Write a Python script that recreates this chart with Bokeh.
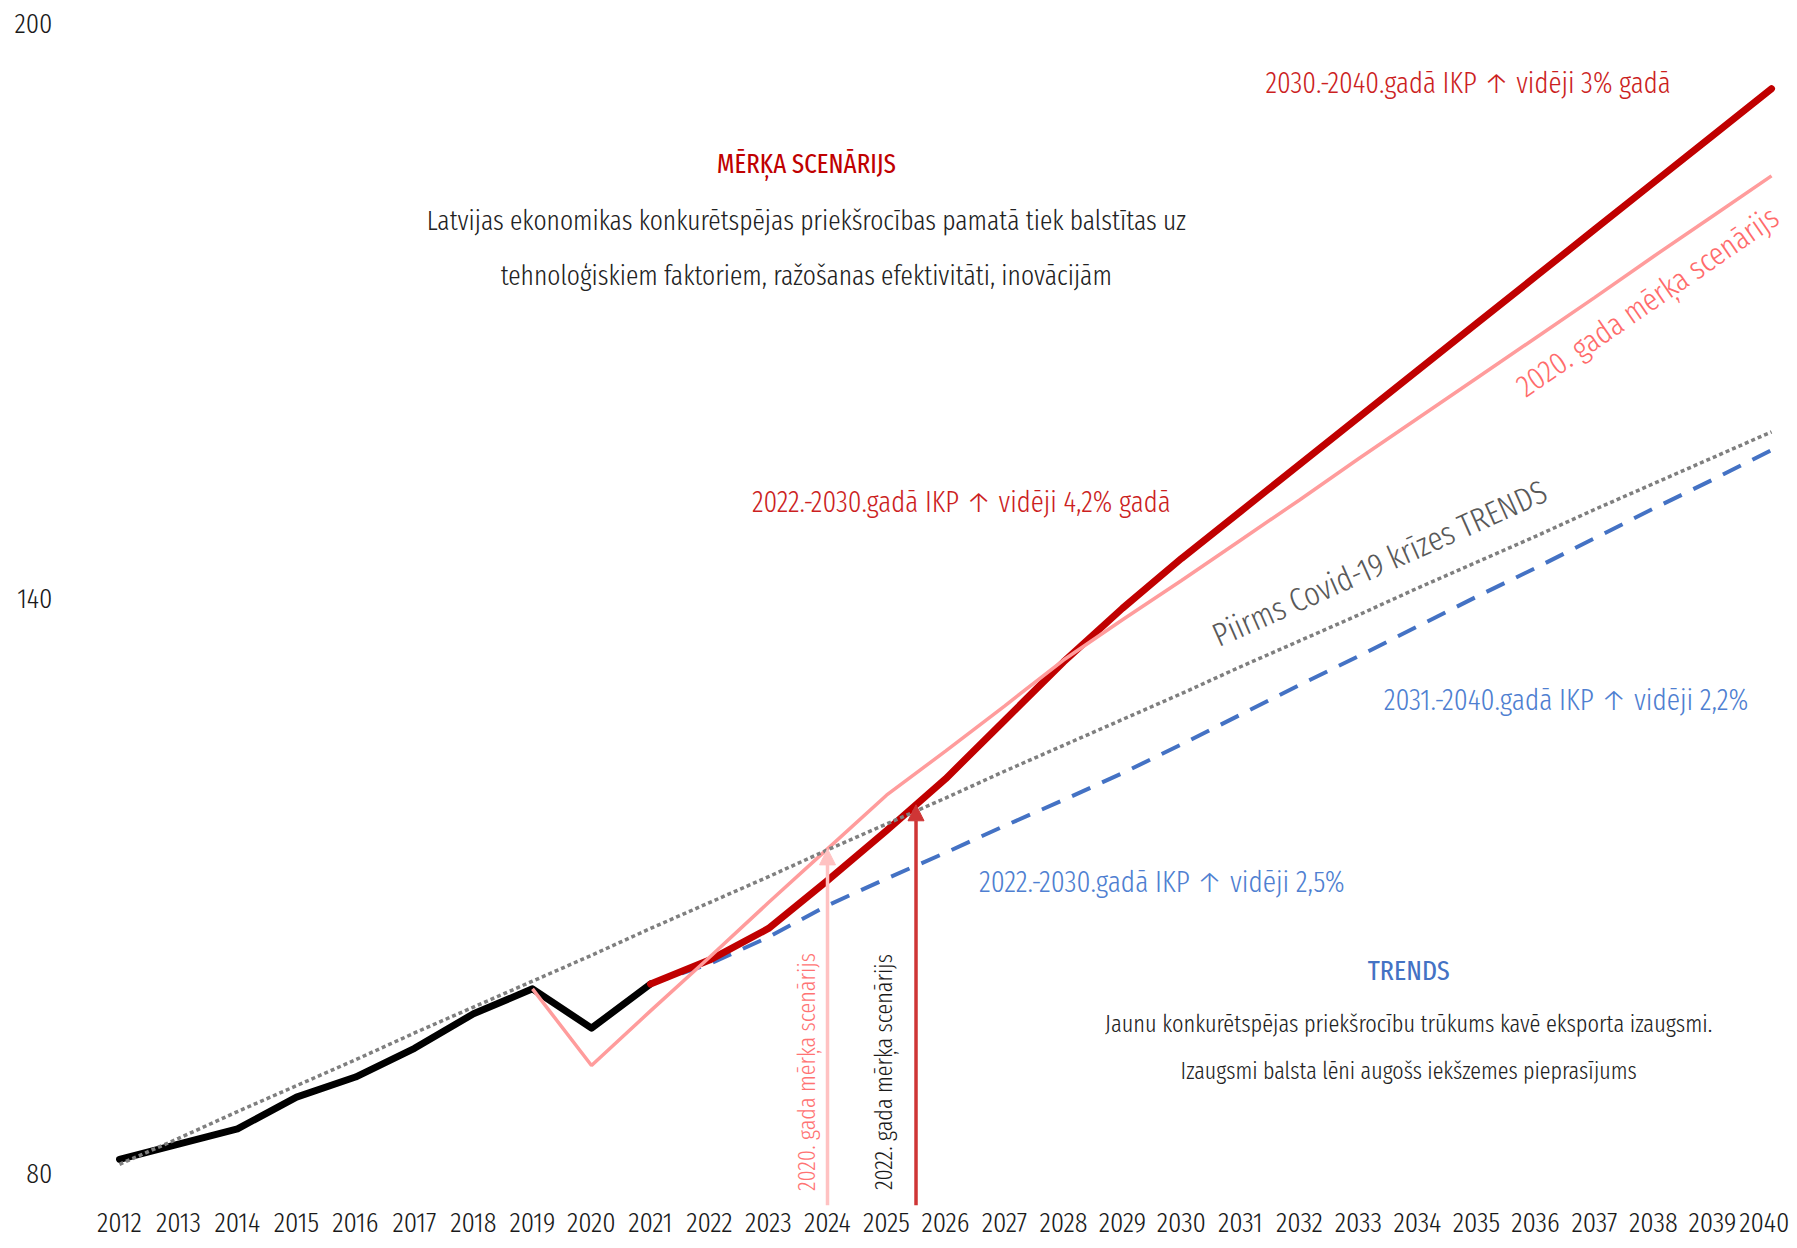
from bokeh.plotting import figure
from bokeh.models import Range1d, FixedTicker, Arrow, NormalHead, Label
from bokeh.embed import file_html
from bokeh.resources import INLINE

LIGHT = "Fira Sans Extra Condensed Light"
REG = "Fira Sans Extra Condensed"

# ---- data (index values) ----
years_hist = list(range(2012, 2022))
actual = [81.5, 83.1, 84.7, 88.0, 90.1, 93.1, 96.7, 99.3, 95.2, 99.8]

years_all = list(range(2012, 2041))
pre_covid_trend = [81.0, 83.7, 86.5, 89.2, 91.9, 94.7, 97.4, 100.1, 102.8, 105.6,
                   108.3, 111.0, 113.8, 116.5, 119.2, 122.0, 124.7, 127.4, 130.1,
                   132.9, 135.6, 138.3, 141.1, 143.8, 146.5, 149.3, 152.0, 154.7, 157.4]

years_fc = list(range(2021, 2041))
target_2022 = [99.8, 102.3, 105.6, 110.6, 115.8, 121.2, 127.3, 133.4, 139.0, 144.2,
               149.1, 154.0, 158.9, 163.8, 168.7, 173.6, 178.5, 183.4, 188.3, 193.2]
trend_fc = [99.8, 101.9, 104.7, 108.0, 110.8, 113.5, 116.3, 119.0, 121.8, 124.8,
            127.9, 131.0, 134.0, 137.1, 140.2, 143.2, 146.3, 149.4, 152.4, 155.5]

years_2020 = list(range(2019, 2041))
target_2020 = [99.3, 91.3, 97.0, 102.6, 108.3, 113.9, 119.5, 124.1, 128.8, 133.6, 137.8,
               141.9, 146.1, 150.3, 154.6, 158.8, 163.0, 167.2, 171.4, 175.7, 179.9, 184.1]

y_ticks = [80, 140, 200]
arrow_2020_year = 2024
arrow_2022_year = 2025.5

Y_MIN, Y_MAX = 76.7, 200

p = figure(width=1789, height=1240,
           x_range=Range1d(2011.254, 2040.237), y_range=Range1d(Y_MIN, Y_MAX),
           output_backend="svg", toolbar_location=None,
           min_border_left=75, min_border_right=4, min_border_top=23, min_border_bottom=35)
p.outline_line_color = None
p.xgrid.visible = False
p.ygrid.visible = False

for ax in (p.xaxis[0], p.yaxis[0]):
    ax.axis_line_color = None
    ax.major_tick_line_color = None
    ax.minor_tick_line_color = None
    ax.major_label_text_font = LIGHT
    ax.major_label_text_font_size = "28.5px"
    ax.major_label_text_color = "#1a1a1a"
p.xaxis.ticker = FixedTicker(ticks=years_all)
p.yaxis.ticker = FixedTicker(ticks=y_ticks)
p.xaxis.major_label_standoff = 1
p.yaxis.major_label_standoff = 17

# ---- lines ----
p.line(years_hist, actual, line_color="black", line_width=7, line_cap="round", line_join="round")
p.line(years_fc, trend_fc, line_color="#4472c4", line_width=4, line_dash="20 13")
p.line(years_fc, target_2022, line_color="#c00000", line_width=7, line_cap="round", line_join="round")
p.line(years_2020, target_2020, line_color="#ff9c9c", line_width=3.5)
p.line(years_all, pre_covid_trend, line_color="#7f7f7f", line_width=3.5, line_dash="4 3")

# ---- arrows ----
y_pink_tip = target_2020[years_2020.index(arrow_2020_year)]
i0 = years_fc.index(int(arrow_2022_year))
y_red_tip = (target_2022[i0] + target_2022[i0 + 1]) / 2
p.add_layout(Arrow(x_start=arrow_2020_year, y_start=Y_MIN, x_end=arrow_2020_year, y_end=y_pink_tip,
                   line_color="#ffc2c2", line_width=3.5,
                   end=NormalHead(size=16, fill_color="#ffc2c2", line_color="#ffc2c2")))
p.add_layout(Arrow(x_start=arrow_2022_year, y_start=Y_MIN, x_end=arrow_2022_year, y_end=y_red_tip,
                   line_color="#cf3535", line_width=3.5,
                   end=NormalHead(size=16, fill_color="#cf3535", line_color="#cf3535")))

# ---- labels ----
def lab(x, y, text, color, size, angle=0, font=LIGHT):
    p.add_layout(Label(x=x, y=y, text=text, text_color=color, text_font=font,
                       text_font_size="%.1fpx" % size,
                       text_align="center", text_baseline="middle",
                       angle=angle, angle_units="deg"))

lab(2023.64, 185.3, "MĒRĶA SCENĀRIJS", "#c00000", 27, font=REG)
lab(2023.64, 179.44, "Latvijas ekonomikas konkurētspējas priekšrocības pamatā tiek balstītas uz", "#222222", 27.8)
lab(2023.64, 173.70, "tehnoloģiskiem faktoriem, ražošanas efektivitāti, inovācijām", "#222222", 27.8)
lab(2034.86, 193.79, "2030.-2040.gadā IKP ↑ vidēji 3% gadā", "#cc1f1f", 29.3)
lab(2026.27, 150.02, "2022.-2030.gadā IKP ↑ vidēji 4,2% gadā", "#cc1f1f", 29.3)
lab(2036.52, 129.46, "2031.-2040.gadā IKP ↑ vidēji 2,2%", "#4f7fd1", 29.8)
lab(2029.67, 110.43, "2022.-2030.gadā IKP ↑ vidēji 2,5%", "#4f7fd1", 29.8)
lab(2033.85, 101.23, "TRENDS", "#4472c4", 28.2, font=REG)
lab(2033.85, 95.73, "Jaunu konkurētspējas priekšrocību trūkums kavē eksporta izaugsmi.", "#222222", 24.4)
lab(2033.85, 90.70, "Izaugsmi balsta lēni augošs iekšzemes pieprasījums", "#222222", 24.0)
lab(2033.36, 143.65, "Piirms Covid-19 krīzes TRENDS", "#595959", 33.0, angle=24)
lab(2037.90, 170.99, "2020. gada mērķa scenārijs", "#ff6b6b", 31.4, angle=34.5)
lab(2023.64, 90.64, "2020. gada mērķa scenārijs", "#ff7373", 24.1, angle=90)
lab(2024.95, 90.64, "2022. gada mērķa scenārijs", "#1a1a1a", 24.1, angle=90)

open("out.html", "w").write(file_html(p, INLINE))
